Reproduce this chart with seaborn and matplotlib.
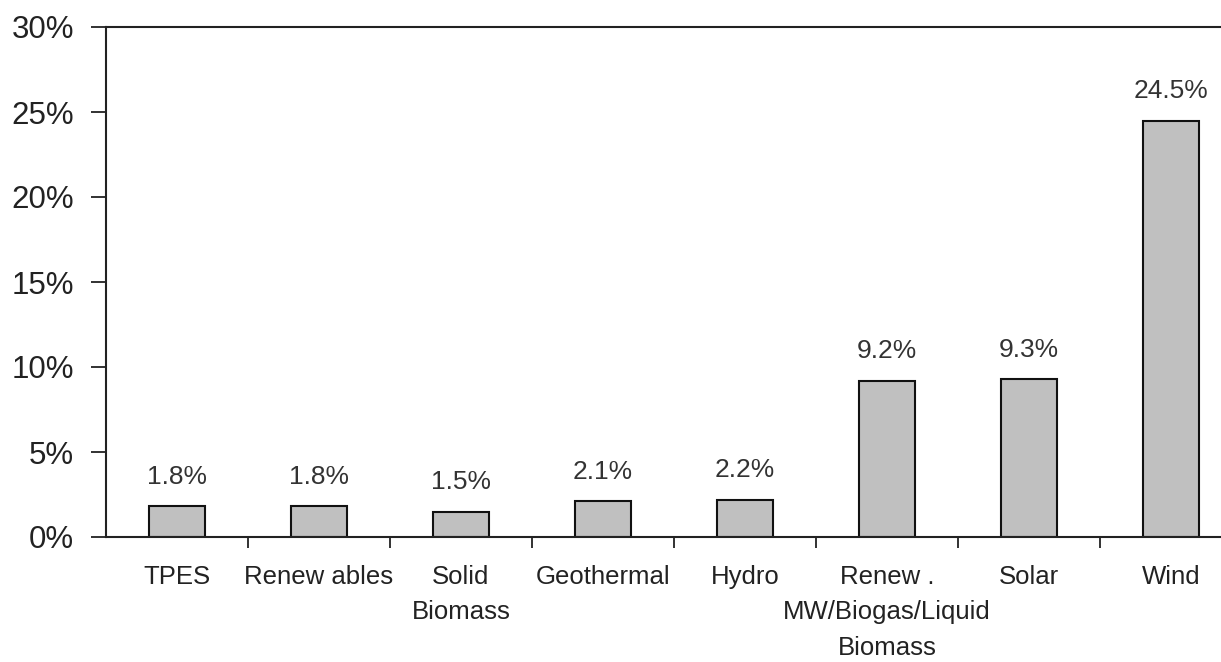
import matplotlib
matplotlib.use("Agg")
import matplotlib.pyplot as plt
import seaborn as sns
import numpy as np
import pandas as pd
from matplotlib.ticker import FuncFormatter

categories = ["TPES", "Renew ables", "Solid\nBiomass", "Geothermal", "Hydro",
              "Renew .\nMW/Biogas/Liquid\nBiomass", "Solar", "Wind"]
values = [1.8, 1.8, 1.5, 2.1, 2.2, 9.2, 9.3, 24.5]
value_labels = ["1.8%", "1.8%", "1.5%", "2.1%", "2.2%", "9.2%", "9.3%", "24.5%"]
y_ticks = [0, 5, 10, 15, 20, 25, 30]

sns.set_style("white")
plt.rcParams['font.family'] = ['Liberation Sans', 'DejaVu Sans']

df = pd.DataFrame({"cat": categories, "val": values})

W, H = 1221, 662
fig = plt.figure(figsize=(W / 100, H / 100), dpi=100)
left, right, top, bottom = 106, 1242, 27, 537
ax = fig.add_axes([left / W, (H - bottom) / H, (right - left) / W, (bottom - top) / H])

sns.barplot(data=df, x="cat", y="val", ax=ax, color="#c0c0c0",
            edgecolor="#111111", linewidth=1.5, width=0.39, saturation=1)

ax.set_xlim(-0.5, len(categories) - 0.5)
ax.set_ylim(0, 30)
ax.set_xlabel("")
ax.set_ylabel("")

ax.set_yticks(y_ticks)
ax.yaxis.set_major_formatter(FuncFormatter(lambda v, p: f"{v:.0f}%"))
ax.tick_params(axis="y", which="major", length=11, width=1.3, direction="out",
               left=True, pad=12, labelsize=22.5, colors="#222222")

ax.set_xticks(range(len(categories)))
ax.set_xticklabels(categories, linespacing=1.6)
ax.tick_params(axis="x", which="major", length=0, pad=20, labelsize=18.5,
               colors="#222222")
ax.set_xticks(np.arange(0.5, len(categories) - 0.5, 1), minor=True)
ax.tick_params(axis="x", which="minor", length=8, width=1.3, direction="out",
               bottom=True, color="#222222")

for sp in ["left", "bottom", "top", "right"]:
    ax.spines[sp].set_color("#222222")
    ax.spines[sp].set_linewidth(1.5)

for i, (v, lab) in enumerate(zip(values, value_labels)):
    ax.annotate(lab, (i, v), xytext=(0, 16), textcoords="offset points",
                ha="center", va="baseline", fontsize=19, color="#333333")

fig.savefig("out.png", dpi=100)
